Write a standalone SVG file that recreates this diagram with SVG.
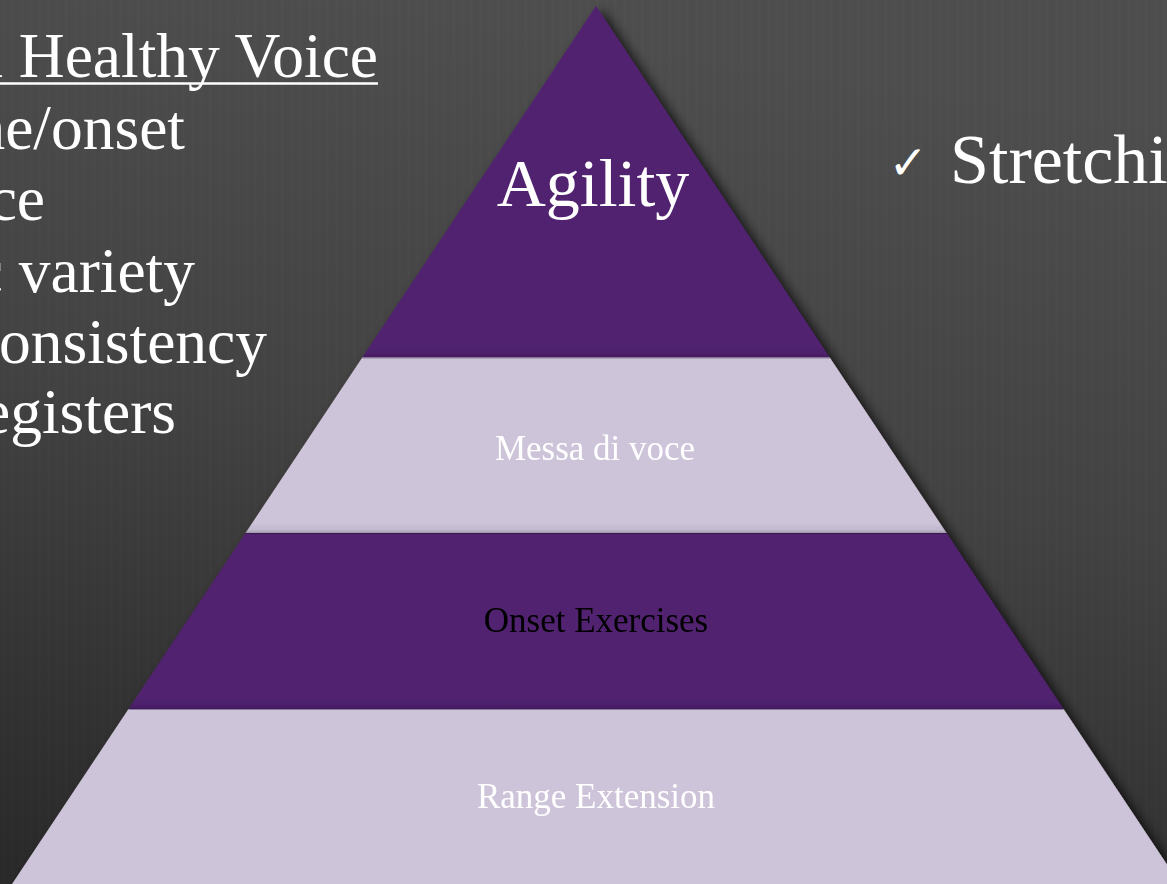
<svg xmlns="http://www.w3.org/2000/svg" width="1167" height="884" viewBox="0 0 1167 884">
  <style>
    .dark { fill: #512170; }
    .light { fill: #cdc4da; }
  </style>
  <defs>
    <linearGradient id="bg" x1="0.3" y1="0" x2="0.1" y2="1">
      <stop offset="0" stop-color="#4e4e4e"/>
      <stop offset="0.45" stop-color="#434343"/>
      <stop offset="1" stop-color="#2a2a2a"/>
    </linearGradient>
    <pattern id="grain" width="9" height="20" patternUnits="userSpaceOnUse">
      <rect x="0" y="0" width="1" height="20" fill="#000" opacity="0.02"/>
      <rect x="3" y="0" width="1" height="20" fill="#fff" opacity="0.01"/>
      <rect x="6" y="0" width="2" height="20" fill="#000" opacity="0.015"/>
    </pattern>
    <filter id="drop" x="-10%" y="-10%" width="125%" height="125%">
      <feGaussianBlur in="SourceAlpha" stdDeviation="6"/>
      <feOffset dx="6" dy="4" result="b"/>
      <feComponentTransfer><feFuncA type="linear" slope="0.75"/></feComponentTransfer>
      <feMerge><feMergeNode/><feMergeNode in="SourceGraphic"/></feMerge>
    </filter>
    <!-- soft darkening along the lower edge of each tier -->
    <linearGradient id="edgeShade" x1="0" y1="0" x2="0" y2="1">
      <stop offset="0" stop-color="#000" stop-opacity="0"/>
      <stop offset="0.7" stop-color="#000" stop-opacity="0.06"/>
      <stop offset="1" stop-color="#000" stop-opacity="0.22"/>
    </linearGradient>
  </defs>

  <!-- backdrop -->
  <rect width="1167" height="884" fill="url(#bg)"/>
  <rect width="1167" height="884" fill="url(#grain)"/>

  <!-- pyramid tiers -->
  <g id="pyramid" filter="url(#drop)" font-family="'Liberation Serif', 'Times New Roman', serif" text-anchor="middle">
    <g id="tier-agility">
      <polygon class="dark" points="596,6 829.7,357.5 362.3,357.5"/>
      <polygon fill="url(#edgeShade)" points="369,347.5 823,347.5 829.7,357.5 362.3,357.5"/>
      <text x="593" y="206" font-size="68" fill="#ffffff">Agility</text>
    </g>
    <g id="tier-messa">
      <polygon class="light" points="362.3,357.5 829.7,357.5 946.5,533 245.5,533"/>
      <polygon fill="url(#edgeShade)" points="252,523 940,523 946.5,533 245.5,533"/>
      <line x1="362.3" y1="358" x2="829.7" y2="358" stroke="#8a7a9a" stroke-width="1"/>
      <text x="595" y="460" font-size="35" fill="#ffffff">Messa di voce</text>
    </g>
    <g id="tier-onset">
      <polygon class="dark" points="245.5,533 946.5,533 1063.5,709 128.5,709"/>
      <polygon fill="url(#edgeShade)" points="135,699 1057,699 1063.5,709 128.5,709"/>
      <line x1="245.5" y1="533.5" x2="946.5" y2="533.5" stroke="#3a1850" stroke-width="1"/>
      <text x="596" y="632" font-size="35" fill="#000000">Onset Exercises</text>
    </g>
    <g id="tier-range">
      <polygon class="light" points="128.5,709 1063.5,709 1180,884 12,884"/>
      <line x1="128.5" y1="709.5" x2="1063.5" y2="709.5" stroke="#8a7a9a" stroke-width="1"/>
      <text x="596" y="808" font-size="35" fill="#ffffff">Range Extension</text>
    </g>
  </g>

  <!-- left-hand list -->
  <g id="list" font-family="'Liberation Serif', 'Times New Roman', serif" font-size="63.5" fill="#ffffff" text-anchor="end">
    <text x="378" y="77">a Healthy Voice</text>
    <line x1="-30" y1="83.5" x2="378" y2="83.5" stroke="#ffffff" stroke-width="2.5"/>
    <text x="185" y="149">ne/onset</text>
    <text x="45" y="220">ce</text>
    <text x="195" y="292">c variety</text>
    <text x="267" y="363">onsistency</text>
    <text x="176" y="433">egisters</text>
  </g>

  <!-- right-hand note -->
  <g id="note" fill="#ffffff">
    <text x="888.5" y="179" font-family="'DejaVu Sans', sans-serif" font-size="47">✓</text>
    <text x="950" y="183" font-family="'Liberation Serif', 'Times New Roman', serif" font-size="70">Stretchi</text>
  </g>
</svg>
